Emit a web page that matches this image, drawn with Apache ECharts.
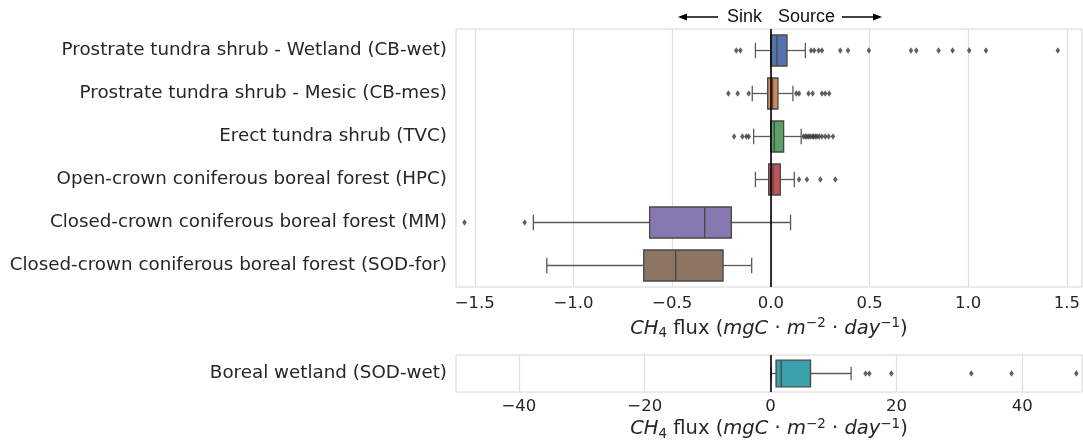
<!DOCTYPE html>
<html><head><meta charset="utf-8">
<script src="https://cdn.jsdelivr.net/npm/echarts@6/dist/echarts.min.js"></script>
<style>html,body{margin:0;padding:0;background:#fff}#c{width:1083px;height:444px}</style>
</head><body><div id="c"></div>
<script>
// ---- data ----
const categories = [
  'Prostrate tundra shrub - Wetland (CB-wet)',
  'Prostrate tundra shrub - Mesic (CB-mes)',
  'Erect tundra shrub (TVC)',
  'Open-crown coniferous boreal forest (HPC)',
  'Closed-crown coniferous boreal forest (MM)',
  'Closed-crown coniferous boreal forest (SOD-for)'
];
const whiskerLow  = [-0.078, -0.094, -0.087, -0.078, -1.203, -1.135];
const q1          = [ 0.000, -0.016,  0.000, -0.011, -0.614, -0.644];
const median      = [ 0.031,  0.009,  0.018,  0.011, -0.335, -0.482];
const q3          = [ 0.082,  0.036,  0.065,  0.048, -0.200, -0.242];
const whiskerHigh = [ 0.175,  0.112,  0.154,  0.119,  0.100, -0.097];
const outliers = [
  [-0.175,-0.154,0.204,0.220,0.242,0.259,0.352,0.391,0.497,0.710,0.737,0.850,0.921,1.005,1.090,1.454],
  [-0.215,-0.168,-0.112,0.129,0.143,0.191,0.212,0.259,0.276,0.296],
  [-0.186,-0.144,-0.124,-0.112,0.166,0.175,0.183,0.192,0.200,0.210,0.217,0.226,0.234,0.245,0.259,0.276,0.293,0.315],
  [0.143,0.183,0.251,0.327],
  [-1.552,-1.247],
  []
];
const wetCategories = ['Boreal wetland (SOD-wet)'];
const wetStats = [0.1, 0.87, 1.7, 6.35, 12.8];   // low whisker, q1, median, q3, high whisker
const wetOutliers = [15.1, 15.7, 19.2, 31.9, 38.3, 48.6];
const topTicks = [-1.5, -1.0, -0.5, 0.0, 0.5, 1.0, 1.5];
const bottomTicks = [-40, -20, 0, 20, 40];

const boxColors = ['#5572ae','#d3885a','#5b9f69','#c05458','#8678b0','#8c7563'];
const wetColor = '#3aa0ab';

// ---- build ----
const topBoxData = categories.map((c, i) => [i, whiskerLow[i], q1[i], median[i], q3[i], whiskerHigh[i]]);
const topOutData = [];
outliers.forEach((arr, i) => arr.forEach(v => topOutData.push([v, i])));
const botBoxData = [[0].concat(wetStats)];
const botOutData = wetOutliers.map(v => [v, 0]);

function makeRender(colorFn) {
  return function (params, api) {
    const cat = api.value(0);
    const lo = api.value(1), a = api.value(2), m = api.value(3), b = api.value(4), hi = api.value(5);
    const band = api.size([0, 1])[1];
    const h = band * 0.72;
    const cap = h / 2;
    const pLo = api.coord([lo, cat]), pA = api.coord([a, cat]), pM = api.coord([m, cat]);
    const pB = api.coord([b, cat]), pHi = api.coord([hi, cat]);
    const y = pA[1];
    const ws = { stroke: '#5a5a5a', lineWidth: 1.3, fill: null };
    const bs = { stroke: '#474747', lineWidth: 1.3 };
    return {
      type: 'group',
      children: [
        { type: 'line', shape: { x1: pLo[0], y1: y, x2: pA[0], y2: y }, style: ws },
        { type: 'line', shape: { x1: pB[0], y1: y, x2: pHi[0], y2: y }, style: ws },
        { type: 'line', shape: { x1: pLo[0], y1: y - cap / 2, x2: pLo[0], y2: y + cap / 2 }, style: ws },
        { type: 'line', shape: { x1: pHi[0], y1: y - cap / 2, x2: pHi[0], y2: y + cap / 2 }, style: ws },
        { type: 'rect', shape: { x: pA[0], y: y - h / 2, width: pB[0] - pA[0], height: h },
          style: Object.assign({ fill: colorFn(cat) }, bs) },
        { type: 'line', shape: { x1: pM[0], y1: y - h / 2, x2: pM[0], y2: y + h / 2 }, style: bs }
      ]
    };
  };
}

const FONT = 'DejaVu Sans';
const TXT = '#262626';
const GRIDC = '#dedede';

function axisName() {
  return '{i|CH}{sb|4}{n| flux (}{i|mgC}{n| · }{i|m}{sp|−2}{n| · }{i|day}{sp|−1}{n|)}';
}
const nameStyle = {
  color: TXT, fontFamily: FONT, fontSize: 19.5,
  rich: {
    i: { fontStyle: 'italic', fontSize: 19.5, fontFamily: FONT, color: TXT, lineHeight: 24, verticalAlign: 'middle' },
    n: { fontSize: 19.5, fontFamily: FONT, color: TXT, lineHeight: 24, verticalAlign: 'middle' },
    sb: { fontSize: 13.5, fontFamily: FONT, color: TXT, lineHeight: 15, verticalAlign: 'bottom' },
    sp: { fontSize: 13.5, fontFamily: FONT, color: TXT, lineHeight: 14, verticalAlign: 'top' }
  }
};

function gridLineMark(ticks) {
  return { silent: true, z: 0, symbol: ['none', 'none'], label: { show: false },
    lineStyle: { color: GRIDC, width: 1.2, type: 'solid' }, data: ticks.map(t => ({ xAxis: t })) };
}
const zeroMark = { silent: true, z: 5, symbol: ['none', 'none'], label: { show: false },
  lineStyle: { color: '#000', width: 1.6, type: 'solid' }, data: [{ xAxis: 0 }] };

const option = {
  backgroundColor: '#ffffff',
  animation: false,
  grid: [
    { left: 456, top: 29, width: 626, height: 258, show: true, borderColor: '#d6d6d6', borderWidth: 1, backgroundColor: 'transparent' },
    { left: 456, top: 355, width: 626, height: 37, show: true, borderColor: '#d6d6d6', borderWidth: 1, backgroundColor: 'transparent' }
  ],
  xAxis: [
    { type: 'value', gridIndex: 0, min: -1.595, max: 1.576,
      axisLine: { show: false }, axisTick: { show: false }, splitLine: { show: false },
      axisLabel: { customValues: topTicks, color: TXT, fontFamily: FONT, fontSize: 16.5, margin: 8,
        formatter: v => (v < 0 ? '−' : '') + Math.abs(v).toFixed(1) },
      name: axisName(), nameLocation: 'middle', nameGap: 26, nameTextStyle: nameStyle },
    { type: 'value', gridIndex: 1, min: -50, max: 49.5,
      axisLine: { show: false }, axisTick: { show: false }, splitLine: { show: false },
      axisLabel: { customValues: bottomTicks, color: TXT, fontFamily: FONT, fontSize: 16.5, margin: 6,
        formatter: v => (v < 0 ? '−' : '') + Math.abs(v) },
      name: axisName(), nameLocation: 'middle', nameGap: 25, nameTextStyle: nameStyle }
  ],
  yAxis: [
    { type: 'category', gridIndex: 0, data: categories, inverse: true,
      axisLine: { show: false }, axisTick: { show: false }, splitLine: { show: false },
      axisLabel: { color: TXT, fontFamily: FONT, fontSize: 18.3, margin: 9, padding: [4, 0, 0, 0] } },
    { type: 'category', gridIndex: 1, data: wetCategories, inverse: true,
      axisLine: { show: false }, axisTick: { show: false }, splitLine: { show: false },
      axisLabel: { color: TXT, fontFamily: FONT, fontSize: 18.3, margin: 9, padding: [4, 0, 0, 0] } }
  ],
  series: [
    { type: 'scatter', xAxisIndex: 0, yAxisIndex: 0, data: [], z: 0, silent: true, markLine: gridLineMark(topTicks) },
    { type: 'scatter', xAxisIndex: 1, yAxisIndex: 1, data: [], z: 0, silent: true, markLine: gridLineMark(bottomTicks) },
    { type: 'custom', xAxisIndex: 0, yAxisIndex: 0, z: 2, data: topBoxData,
      encode: { x: [1, 2, 3, 4, 5], y: 0 }, renderItem: makeRender(i => boxColors[i]) },
    { type: 'custom', xAxisIndex: 1, yAxisIndex: 1, z: 2, data: botBoxData,
      encode: { x: [1, 2, 3, 4, 5], y: 0 }, renderItem: makeRender(() => wetColor) },
    { type: 'scatter', xAxisIndex: 0, yAxisIndex: 0, z: 3, data: topOutData, symbol: 'diamond',
      symbolSize: [4.5, 6.5], itemStyle: { color: '#3a3a3a' }, markLine: zeroMark },
    { type: 'scatter', xAxisIndex: 1, yAxisIndex: 1, z: 3, data: botOutData, symbol: 'diamond',
      symbolSize: [4.5, 6.5], itemStyle: { color: '#3a3a3a' }, markLine: zeroMark }
  ],
  graphic: [
    { type: 'text', left: 727, top: 8, style: { text: 'Sink', font: '18px "Liberation Sans"', fill: '#111' } },
    { type: 'text', left: 778, top: 8, style: { text: 'Source', font: '18px "Liberation Sans"', fill: '#111' } },
    { type: 'line', shape: { x1: 684, y1: 17, x2: 718, y2: 17 }, style: { stroke: '#000', lineWidth: 1.6 } },
    { type: 'polygon', shape: { points: [[678, 17], [687, 13.5], [687, 20.5]] }, style: { fill: '#000' } },
    { type: 'line', shape: { x1: 842, y1: 17, x2: 876, y2: 17 }, style: { stroke: '#000', lineWidth: 1.6 } },
    { type: 'polygon', shape: { points: [[882, 17], [873, 13.5], [873, 20.5]] }, style: { fill: '#000' } }
  ]
};

const chart = echarts.init(document.getElementById('c'), null, { renderer: 'canvas' });
chart.setOption(option);
</script>
</body></html>
